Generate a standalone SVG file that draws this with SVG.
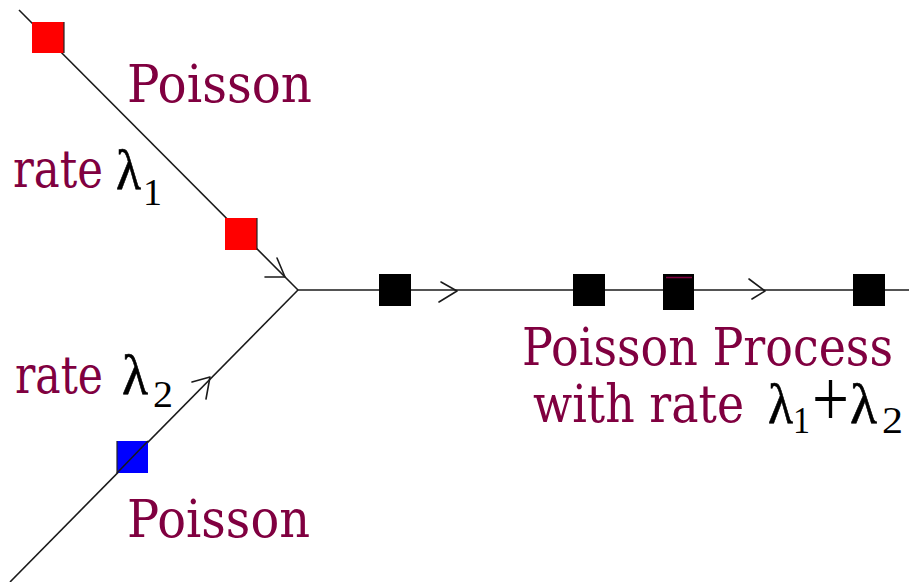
<svg xmlns="http://www.w3.org/2000/svg" width="909" height="582" viewBox="0 0 909 582">
<style>
.ln{stroke:#1a1a1a;stroke-width:1.6;fill:none}
.ar{stroke:#1a1a1a;stroke-width:1.6;fill:none;stroke-linecap:round;stroke-linejoin:round}
.t{font-family:'DejaVu Serif','Liberation Serif',serif;font-size:52px;fill:#800040}
.m{font-family:'Liberation Serif','DejaVu Serif',serif;font-size:58px;fill:#000;stroke:#000;stroke-width:0.6}
.p{font-family:'Liberation Serif','DejaVu Serif',serif;font-size:80px;fill:#000}
.s{font-family:'Liberation Serif','DejaVu Serif',serif;font-size:38px;fill:#000}
.red{fill:#ff0000}
.blk{fill:#000}
.blu{fill:#0000ff}
</style>
<rect width="909" height="582" fill="#fff"/>
<g id="connectors">
<line class="ln" x1="19" y1="10" x2="298" y2="290"/>
<line class="ln" x1="298" y1="290" x2="10" y2="582"/>
<line class="ln" x1="298" y1="290" x2="909" y2="290"/>
<polyline class="ar" points="265,277 285,277 277,258"/>
<polyline class="ar" points="192,382 210,377 206,399"/>
<polyline class="ar" points="441,282 457,291 439,302"/>
<polyline class="ar" points="749,279 765,291 752,299"/>
</g>
<g id="source1">
<rect class="red" x="32" y="22" width="32" height="31"/>
<line x1="64" y1="22" x2="64" y2="53" stroke="#222" stroke-width="1.2"/>
<rect class="red" x="225" y="218" width="32" height="32"/>
<line x1="257" y1="218" x2="257" y2="250" stroke="#222" stroke-width="1.2"/>
<text class="t" x="127" y="102" textLength="185" lengthAdjust="spacingAndGlyphs">Poisson</text>
<text class="t" x="13" y="187" textLength="90" lengthAdjust="spacingAndGlyphs">rate</text>
<text class="m" x="116" y="189" textLength="25" lengthAdjust="spacingAndGlyphs">λ</text>
<text class="s" x="143" y="205" textLength="19" lengthAdjust="spacingAndGlyphs">1</text>
</g>
<g id="source2">
<rect class="blu" x="117" y="441" width="31" height="32"/>
<line x1="117" y1="441" x2="117" y2="473" stroke="#222" stroke-width="1.2"/>
<line class="ln" x1="148" y1="441" x2="117" y2="473"/>
<text class="t" x="15" y="393" textLength="88" lengthAdjust="spacingAndGlyphs">rate</text>
<text class="m" x="122" y="394" textLength="26" lengthAdjust="spacingAndGlyphs">λ</text>
<text class="s" x="153" y="407" textLength="20" lengthAdjust="spacingAndGlyphs">2</text>
<text class="t" x="127" y="537" textLength="183" lengthAdjust="spacingAndGlyphs">Poisson</text>
</g>
<g id="merged">
<rect class="blk" x="379" y="274" width="32" height="32"/>
<rect class="blk" x="573" y="274" width="32" height="32"/>
<rect class="blk" x="663" y="274" width="31" height="36"/>
<line x1="666" y1="277.5" x2="692" y2="277.5" stroke="#800040" stroke-width="1.5"/>
<rect class="blk" x="853" y="274" width="32" height="32"/>
<text class="t" x="522" y="365" textLength="371" lengthAdjust="spacingAndGlyphs">Poisson Process</text>
<text class="t" x="533" y="422" textLength="211" lengthAdjust="spacingAndGlyphs">with rate</text>
<text class="m" x="768" y="423" textLength="25" lengthAdjust="spacingAndGlyphs">λ</text>
<text class="s" x="793" y="433" textLength="17" lengthAdjust="spacingAndGlyphs">1</text>
<text class="p" x="812" y="426" textLength="37" lengthAdjust="spacingAndGlyphs">+</text>
<text class="m" x="850" y="423" textLength="27" lengthAdjust="spacingAndGlyphs">λ</text>
<text class="s" x="882" y="433" textLength="21" lengthAdjust="spacingAndGlyphs">2</text>
</g>
</svg>
